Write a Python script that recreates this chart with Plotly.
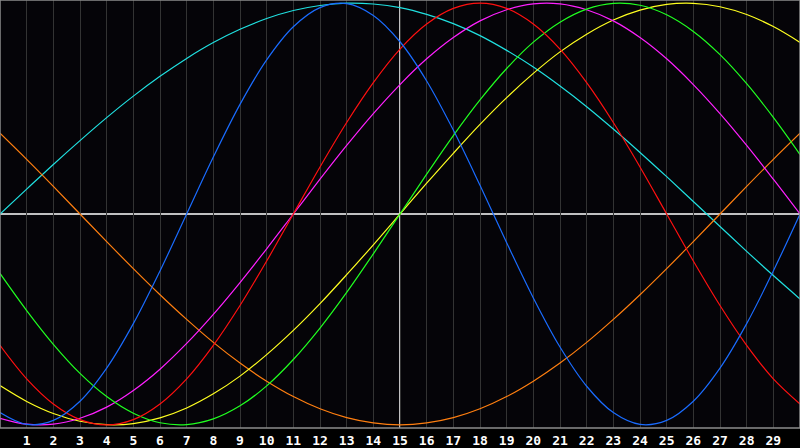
import plotly.graph_objects as go

# ── Data (value -1..1 per day) ─────────────────────────────────
days = list(range(0, 31))
tick_days = list(range(1, 30))
today = 15

physical = [-0.942, -0.998, -0.979, -0.888, -0.731, -0.520, -0.270, 0.0, 0.270, 0.520,
            0.731, 0.888, 0.979, 0.998, 0.942, 0.817, 0.631, 0.398, 0.136, -0.136,
            -0.398, -0.631, -0.817, -0.942, -0.998, -0.979, -0.888, -0.731, -0.520, -0.270, 0.0]
emotional = [-0.623, -0.782, -0.901, -0.975, -1.000, -0.975, -0.901, -0.782, -0.623, -0.434,
             -0.223, 0.0, 0.223, 0.434, 0.623, 0.782, 0.901, 0.975, 1.000, 0.975,
             0.901, 0.782, 0.623, 0.434, 0.223, 0.0, -0.223, -0.434, -0.623, -0.782, -0.901]
intellectual = [-0.282, -0.458, -0.618, -0.756, -0.866, -0.945, -0.990, -0.999, -0.972, -0.910,
                -0.815, -0.690, -0.541, -0.372, -0.189, 0.0, 0.189, 0.372, 0.541, 0.690,
                0.815, 0.910, 0.972, 0.999, 0.990, 0.945, 0.866, 0.756, 0.618, 0.458, 0.282]
intuitive = [-0.969, -0.997, -0.997, -0.969, -0.916, -0.837, -0.736, -0.614, -0.476, -0.325,
             -0.165, 0.0, 0.165, 0.325, 0.476, 0.614, 0.736, 0.837, 0.916, 0.969,
             0.997, 0.997, 0.969, 0.916, 0.837, 0.736, 0.614, 0.476, 0.325, 0.165, 0.0]
aesthetic = [-0.814, -0.889, -0.946, -0.983, -0.999, -0.994, -0.967, -0.920, -0.853, -0.769,
             -0.667, -0.552, -0.425, -0.288, -0.146, 0.0, 0.146, 0.288, 0.425, 0.552,
             0.667, 0.769, 0.853, 0.920, 0.967, 0.994, 0.999, 0.983, 0.946, 0.889, 0.814]
awareness = [0.383, 0.259, 0.131, 0.0, -0.131, -0.259, -0.383, -0.500, -0.609, -0.707,
             -0.793, -0.866, -0.924, -0.966, -0.991, -1.000, -0.991, -0.966, -0.924, -0.866,
             -0.793, -0.707, -0.609, -0.500, -0.383, -0.259, -0.131, 0.0, 0.131, 0.259, 0.383]
spiritual = [0.0, 0.118, 0.235, 0.348, 0.457, 0.559, 0.653, 0.738, 0.813, 0.876,
             0.927, 0.965, 0.989, 1.000, 0.996, 0.979, 0.947, 0.903, 0.846, 0.776,
             0.697, 0.607, 0.509, 0.403, 0.292, 0.177, 0.059, -0.059, -0.177, -0.292, -0.403]

series = [
    ('Spiritual', spiritual, '#20E0E0'),
    ('Awareness', awareness, '#FF7F10'),
    ('Aesthetic', aesthetic, '#FFFF20'),
    ('Intuitive', intuitive, '#FF20FF'),
    ('Intellectual', intellectual, '#20FF20'),
    ('Emotional', emotional, '#FF1010'),
    ('Physical', physical, '#1A6CFF'),
]

BG    = '#050408'
GRID  = '#333333'
FRAME = '#8C8C8C'

fig = go.Figure()
for name, vals, col in series:
    fig.add_trace(go.Scatter(
        x=days, y=vals, name=name, mode='lines',
        line=dict(color=col, width=1.2, shape='spline'),
        hoverinfo='skip'
    ))

# zero line + today marker
fig.add_shape(type='line', xref='paper', x0=0, x1=1, yref='y', y0=0, y1=0,
              line=dict(color='white', width=1.5), layer='below')
fig.add_shape(type='line', xref='x', x0=today, x1=today, yref='paper', y0=0, y1=1,
              line=dict(color='white', width=1.5), layer='below')
# frame
fig.add_shape(type='rect', xref='paper', yref='paper', x0=0, x1=1, y0=0, y1=1,
              line=dict(color=FRAME, width=1.5), layer='above')

fig.update_layout(
    width=800, height=448,
    margin=dict(l=0, r=0, t=0, b=20, pad=0),
    paper_bgcolor='#000000', plot_bgcolor=BG,
    showlegend=False,
    xaxis=dict(range=[0, 30], tickvals=tick_days, ticktext=[str(d) for d in tick_days],
               showgrid=True, gridcolor=GRID, gridwidth=1, zeroline=False,
               ticks='', ticklen=0, automargin=False, ticklabelstandoff=3,
               tickfont=dict(family='DejaVu Sans Mono', size=13, color='white', weight='bold')),
    yaxis=dict(range=[-1.015, 1.015], showgrid=False, zeroline=False,
               showticklabels=False, ticks='', automargin=False),
)

fig.write_html("out.html", config={'displayModeBar': False},
               post_script="document.body.style.margin='0';document.body.style.background='#000';")
